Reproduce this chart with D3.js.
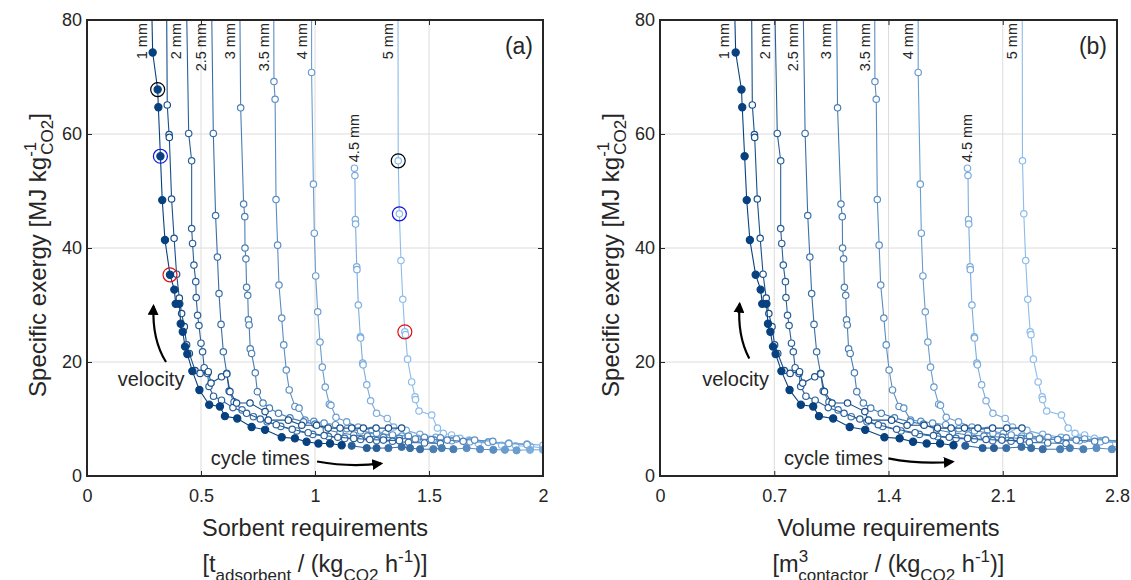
<!DOCTYPE html>
<html>
<head>
<meta charset="utf-8">
<script src="https://cdn.jsdelivr.net/npm/d3@7"></script>
<style>
body { margin: 0; background: #fff; }
text { font-family: "Liberation Sans", Arial, sans-serif; fill: #262626; }
</style>
</head>
<body>
<script>

// particle diameters (one curve each); 1.5 mm has no label on the chart
var diameterLabels = ["1 mm", null, "2 mm", "2.5 mm", "3 mm", "3.5 mm", "4 mm", "4.5 mm", "5 mm"];

// [sorbent requirement t/(kg/h), specific exergy MJ/kg]
var curve1 = [[0.283,84],[0.288,74.3],[0.31,67.8],[0.313,64.7],[0.322,56.1],[0.33,48.4],[0.342,41.4],[0.364,35.3],[0.383,32.7],[0.389,30.2],[0.405,30.2],[0.411,26.7],[0.42,25.3],[0.43,22.7],[0.44,21.4],[0.462,18.4],[0.493,15.1],[0.536,12.5],[0.583,12.2],[0.605,10.5],[0.659,10.1],[0.722,8.6],[0.781,8.1],[0.854,6.8],[0.912,6.6],[0.963,6.0],[1.015,5.7],[1.066,5.7],[1.117,5.4]];
var curve1_5 = [[0.349,84],[0.352,65.1],[0.36,59.9],[0.361,59.4],[0.371,48.6],[0.382,41.7],[0.393,35.4],[0.405,31.2],[0.415,28.5],[0.427,26.2],[0.437,23.0],[0.449,21.5],[0.474,18.5],[0.496,18.0],[0.532,18.3],[0.544,16.3],[0.59,17.4],[0.613,17.9],[0.627,14.8],[0.656,12.8],[0.715,12.8],[0.781,11.3],[0.795,9.8],[0.883,9.8],[0.942,8.9],[1.007,8.9],[1.058,8.4],[1.11,8.4],[1.161,8.4],[1.212,8.4],[1.268,8.4],[1.322,8.4],[1.38,8.4]];
var curve2 = [[0.436,84],[0.446,60.1],[0.459,55.3],[0.459,43.4],[0.463,40.8],[0.469,37.0],[0.477,34.1],[0.479,31.3],[0.485,28.2],[0.491,26.4],[0.5,23.3],[0.507,21.8],[0.514,19.0],[0.529,18.0],[0.535,15.7],[0.555,14.0],[0.59,13.3],[0.64,12.0],[0.70,11.0],[0.76,10.0],[0.83,9.0],[0.9,8.2],[0.97,7.6],[1.04,7.1],[1.1,6.8],[1.17,6.6],[1.24,6.4],[1.3,6.3],[1.37,6.2]];
var curve2_5 = [[0.546,84],[0.554,60.1],[0.564,45.7],[0.572,38.4],[0.579,32.0],[0.588,26.6],[0.598,21.8],[0.613,18.0],[0.623,14.9],[0.645,13.0],[0.68,11.6],[0.73,10.4],[0.79,9.5],[0.85,8.7],[0.92,7.9],[0.99,7.3],[1.06,6.9],[1.13,6.6],[1.2,6.4],[1.27,6.2],[1.34,6.1],[1.41,5.9],[1.48,5.8],[1.55,5.7]];
var curve3 = [[0.67,84],[0.674,64.6],[0.687,47.7],[0.692,45.5],[0.693,40.0],[0.697,38.1],[0.7,33.1],[0.705,31.7],[0.708,27.4],[0.711,26.5],[0.716,22.3],[0.722,21.5],[0.738,18.1],[0.747,14.8],[0.772,12.8],[0.8,11.9],[0.84,11.0],[0.89,10.2],[0.95,9.5],[1.0,9.1],[1.05,8.1],[1.11,7.6],[1.17,7.2],[1.23,7.0],[1.3,6.8],[1.37,6.6],[1.44,6.5],[1.51,6.4],[1.58,6.3],[1.65,6.1]];
var curve3_5 = [[0.819,84],[0.82,69.2],[0.825,66.1],[0.829,48.5],[0.836,40.5],[0.842,33.5],[0.854,27.7],[0.863,23.0],[0.874,18.6],[0.887,15.1],[0.912,12.2],[0.93,11.9],[0.956,9.8],[0.995,9.6],[1.04,9.3],[1.09,9.0],[1.14,8.3],[1.2,7.9],[1.27,7.5],[1.34,7.2],[1.41,7.0],[1.48,6.8],[1.55,6.7],[1.62,6.5],[1.7,6.3],[1.78,6.1]];
var curve4 = [[0.985,84],[0.985,70.8],[0.993,51.2],[0.997,42.6],[1.003,35.1],[1.012,28.8],[1.022,23.5],[1.032,19.1],[1.045,15.6],[1.063,12.6],[1.07,12.4],[1.092,10.3],[1.139,9.5],[1.19,8.6],[1.25,8.0],[1.31,7.5],[1.38,7.0],[1.45,6.6],[1.52,6.4],[1.6,6.2],[1.68,6.0],[1.76,5.9],[1.85,5.7],[1.93,5.5]];
var curve4_5 = [[1.173,54.0],[1.175,52.7],[1.177,45.0],[1.178,44.2],[1.183,36.7],[1.184,36.2],[1.19,30.0],[1.199,24.4],[1.2,24.2],[1.209,19.8],[1.211,19.5],[1.227,16.0],[1.244,13.2],[1.27,11.0],[1.317,10.1],[1.345,8.6],[1.4,8.0],[1.46,7.3],[1.53,6.8],[1.6,6.5],[1.68,6.2],[1.76,6.0],[1.85,5.8],[1.93,5.6],[2.0,5.4]];
var curve5 = [[1.364,84],[1.365,55.3],[1.37,46.0],[1.377,37.8],[1.385,31.0],[1.394,25.3],[1.397,24.8],[1.406,20.5],[1.424,16.5],[1.439,13.9],[1.441,13.4],[1.456,11.4],[1.512,10.7],[1.537,8.4],[1.563,7.5],[1.599,7.2],[1.636,6.6],[1.675,6.3],[1.716,5.7],[1.775,6.0],[1.819,5.4],[1.88,5.3],[1.945,5.2],[1.999,4.9]];

var curves = [curve1, curve1_5, curve2, curve2_5, curve3, curve3_5, curve4, curve4_5, curve5];

// contactor volume per tonne of sorbent (m3/t) (b) vs (a)
var volumePerTonne = [1.61, 1.607, 1.611, 1.605, 1.614, 1.606, 1.606, 1.606, 1.627];

// best points along the bottom (filled), with the diameter they belong to
var frontSorbent = [1.161,1.227,1.27,1.322,1.38,1.417,1.461,1.519,1.556,1.607,1.665,1.724,1.782,1.833,1.884,1.943,2.0];
var frontExergy  = [5.3,4.9,4.9,4.9,5.1,4.9,4.7,4.7,4.9,4.7,4.9,4.7,4.6,4.6,4.5,4.6,4.6];
var frontDiam    = [2,2,2,3,3,3,3,4,4,4,5,5,5,6,6,7,7];

// marked operating points in panel (a)
var markBlack = [[0.31,67.8],[1.365,55.3]];
var markBlue  = [[0.322,56.1],[1.37,46.0]];
var markRed   = [[0.364,35.3],[1.394,25.3]];

var yTicks = [0, 20, 40, 60, 80];
var xTicksA = [0, 0.5, 1, 1.5, 2];
var xTicksB = [0, 0.7, 1.4, 2.1, 2.8];

var svg = d3.select("body").append("svg")
    .attr("width", 1131)
    .attr("height", 580);

var color = function (i) { return d3.interpolateRgb("#08417f", "#8cbcea")(i / 8); };

var plotTop = 20, plotBottom = 476;

function drawPanel(p) {
    var x = d3.scaleLinear().domain([0, p.xMax]).range([p.left, p.right]);
    var y = d3.scaleLinear().domain([0, 80]).range([plotBottom, plotTop]);
    var g = svg.append("g");

    g.append("clipPath").attr("id", "clip" + p.name)
        .append("rect")
        .attr("x", p.left).attr("y", plotTop)
        .attr("width", p.right - p.left).attr("height", plotBottom - plotTop);

    // grid
    g.selectAll(".gx").data(p.xTicks.slice(1, -1)).enter().append("line")
        .attr("x1", function (d) { return x(d); }).attr("x2", function (d) { return x(d); })
        .attr("y1", plotTop).attr("y2", plotBottom)
        .attr("stroke", "#dcdcdc").attr("stroke-width", 1);
    g.selectAll(".gy").data(yTicks.slice(1, -1)).enter().append("line")
        .attr("y1", function (d) { return y(d); }).attr("y2", function (d) { return y(d); })
        .attr("x1", p.left).attr("x2", p.right)
        .attr("stroke", "#dcdcdc").attr("stroke-width", 1);

    var plot = g.append("g").attr("clip-path", "url(#clip" + p.name + ")");

    // curves, largest diameter first so 1 mm ends on top
    for (var i = curves.length - 1; i >= 0; i--) {
        var k = p.k(i), c = color(i);
        var pts = curves[i].map(function (d) { return [x(d[0] * k), y(d[1])]; });
        plot.append("path")
            .attr("d", d3.line()(pts))
            .attr("fill", "none")
            .attr("stroke", c)
            .attr("stroke-width", 1.1);
        plot.selectAll(null).data(pts).enter().append("circle")
            .attr("cx", function (d) { return d[0]; })
            .attr("cy", function (d) { return d[1]; })
            .attr("r", i === 0 ? 3.6 : 3.2)
            .attr("fill", i === 0 ? c : "#fff")
            .attr("stroke", c)
            .attr("stroke-width", 1.2);
    }

    // filled front along the bottom
    var front = frontSorbent.map(function (s, j) {
        return [x(s * p.k(frontDiam[j])), y(frontExergy[j]), frontDiam[j]];
    });
    for (var j = 1; j < front.length; j++) {
        plot.append("line")
            .attr("x1", front[j - 1][0]).attr("y1", front[j - 1][1])
            .attr("x2", front[j][0]).attr("y2", front[j][1])
            .attr("stroke", color(front[j][2])).attr("stroke-width", 1.1);
    }
    plot.selectAll(null).data(front).enter().append("circle")
        .attr("cx", function (d) { return d[0]; })
        .attr("cy", function (d) { return d[1]; })
        .attr("r", 3.6)
        .attr("fill", function (d) { return color(d[2]); })
        .attr("stroke", function (d) { return color(d[2]); });

    // diameter labels
    curves.forEach(function (cv, i) {
        if (!diameterLabels[i]) return;
        var first = cv[0];
        var px = x(first[0] * p.k(i));
        var t = g.append("text")
            .attr("font-size", 14.5)
            .text(diameterLabels[i]);
        if (first[1] > 80) {
            t.attr("text-anchor", "end")
                .attr("transform", "translate(" + (px - 5) + "," + (plotTop + 3) + ") rotate(-90)");
        } else {
            t.attr("text-anchor", "start")
                .attr("transform", "translate(" + (px + 5) + "," + (y(first[1]) - 6) + ") rotate(-90)");
        }
    });

    // marked points (panel a only)
    if (p.marks) {
        [[markBlack, "#000"], [markBlue, "#1010e0"], [markRed, "#e01010"]].forEach(function (m) {
            g.selectAll(null).data(m[0]).enter().append("circle")
                .attr("cx", function (d) { return x(d[0]); })
                .attr("cy", function (d) { return y(d[1]); })
                .attr("r", 7)
                .attr("fill", "none")
                .attr("stroke", m[1])
                .attr("stroke-width", 1.2);
        });
    }

    // axes (ticks pointing inward)
    var fmt = d3.format("~g");
    var ax = g.append("g").attr("transform", "translate(0," + plotBottom + ")")
        .call(d3.axisBottom(x).tickValues(p.xTicks).tickSize(-5).tickPadding(13).tickFormat(fmt));
    ax.select(".domain").remove();
    ax.attr("font-size", 18).attr("font-family", "Liberation Sans, Arial, sans-serif").attr("color", "#262626");

    var ay = g.append("g").attr("transform", "translate(" + p.left + ",0)")
        .call(d3.axisLeft(y).tickValues(yTicks).tickSize(-5).tickPadding(5).tickFormat(fmt));
    ay.select(".domain").remove();
    ay.attr("font-size", 18).attr("font-family", "Liberation Sans, Arial, sans-serif").attr("color", "#262626");

    var at = g.append("g").attr("transform", "translate(0," + plotTop + ")")
        .call(d3.axisTop(x).tickValues(p.xTicks).tickSize(-5).tickFormat(""));
    at.select(".domain").remove();
    at.attr("color", "#262626");

    var ar = g.append("g").attr("transform", "translate(" + p.right + ",0)")
        .call(d3.axisRight(y).tickValues(yTicks).tickSize(-5).tickFormat(""));
    ar.select(".domain").remove();
    ar.attr("color", "#262626");

    g.append("rect")
        .attr("x", p.left).attr("y", plotTop)
        .attr("width", p.right - p.left).attr("height", plotBottom - plotTop)
        .attr("fill", "none").attr("stroke", "#262626").attr("stroke-width", 2);

    // panel letter
    g.append("text")
        .attr("x", p.right - 10).attr("y", 54)
        .attr("text-anchor", "end")
        .attr("font-size", 23)
        .text(p.letter);

    // y label
    var yl = g.append("text")
        .attr("transform", "translate(" + (p.left - 41) + "," + 255 + ") rotate(-90)")
        .attr("text-anchor", "middle")
        .attr("font-size", 24);
    yl.append("tspan").text("Specific exergy [MJ kg");
    yl.append("tspan").attr("dy", -10).attr("font-size", 17).text("-1");
    yl.append("tspan").attr("dx", -13).attr("dy", 17).attr("font-size", 17).text("CO2");
    yl.append("tspan").attr("dy", -7).text("]");

    // x label, two lines
    var cx = (p.left + p.right) / 2;
    g.append("text")
        .attr("x", cx).attr("y", 536)
        .attr("text-anchor", "middle")
        .attr("font-size", 23.5)
        .text(p.xTitle);
    var xl = g.append("text")
        .attr("x", cx).attr("y", 572)
        .attr("text-anchor", "middle")
        .attr("font-size", 23.5);
    p.unitParts.forEach(function (u) {
        var ts = xl.append("tspan").text(u.t);
        if (u.dy) ts.attr("dy", u.dy);
        if (u.dx) ts.attr("dx", u.dx);
        if (u.fs) ts.attr("font-size", u.fs);
    });

    // annotations
    var defsId = "arrow" + p.name;
    g.append("defs").append("marker")
        .attr("id", defsId)
        .attr("viewBox", "0 0 10 10")
        .attr("refX", 8).attr("refY", 5)
        .attr("markerWidth", 5).attr("markerHeight", 5)
        .attr("orient", "auto")
        .append("path").attr("d", "M0,0 L10,5 L0,10 z").attr("fill", "#000");

    p.arrows.forEach(function (a) {
        g.append("path")
            .attr("d", "M" + x(a[0][0]) + "," + y(a[0][1]) +
                " Q" + x(a[1][0]) + "," + y(a[1][1]) + " " + x(a[2][0]) + "," + y(a[2][1]))
            .attr("fill", "none")
            .attr("stroke", "#000")
            .attr("stroke-width", 2.2)
            .attr("marker-end", "url(#" + defsId + ")");
    });
    p.notes.forEach(function (n) {
        g.append("text")
            .attr("x", x(n[1])).attr("y", y(n[2]))
            .attr("text-anchor", "middle")
            .attr("font-size", 20)
            .text(n[0]);
    });
}

drawPanel({
    name: "a", letter: "(a)", left: 87, right: 543, xMax: 2, xTicks: xTicksA,
    k: function () { return 1; },
    marks: true,
    xTitle: "Sorbent requirements",
    unitParts: [
        { t: "[t" }, { t: "adsorbent", dy: 9, fs: 17 }, { t: " / (kg", dy: -9 },
        { t: "CO2", dy: 9, fs: 17 }, { t: " h", dy: -9 }, { t: "-1", dy: -10, fs: 17 }, { t: ")]", dy: 10 }
    ],
    arrows: [
        [[0.3465, 20.0], [0.285, 23.9], [0.2917, 29.8]],
        [[1.009, 2.54], [1.153, 1.5], [1.29, 2.2]]
    ],
    notes: [["velocity", 0.281, 15.8], ["cycle times", 0.76, 1.9]]
});

drawPanel({
    name: "b", letter: "(b)", left: 660, right: 1117, xMax: 2.8, xTicks: xTicksB,
    k: function (i) { return volumePerTonne[i]; },
    marks: false,
    xTitle: "Volume requirements",
    unitParts: [
        { t: "[m" }, { t: "3", dy: -10, fs: 17 }, { t: "contactor", dx: -10, dy: 19, fs: 17 }, { t: " / (kg", dy: -9 },
        { t: "CO2", dy: 9, fs: 17 }, { t: " h", dy: -9 }, { t: "-1", dy: -10, fs: 17 }, { t: ")]", dy: 10 }
    ],
    arrows: [
        [[0.547, 20.6], [0.472, 24.7], [0.488, 30.2]],
        [[1.399, 3.1], [1.593, 2.0], [1.793, 2.5]]
    ],
    notes: [["velocity", 0.463, 15.8], ["cycle times", 1.063, 1.9]]
});

</script>
</body>
</html>
